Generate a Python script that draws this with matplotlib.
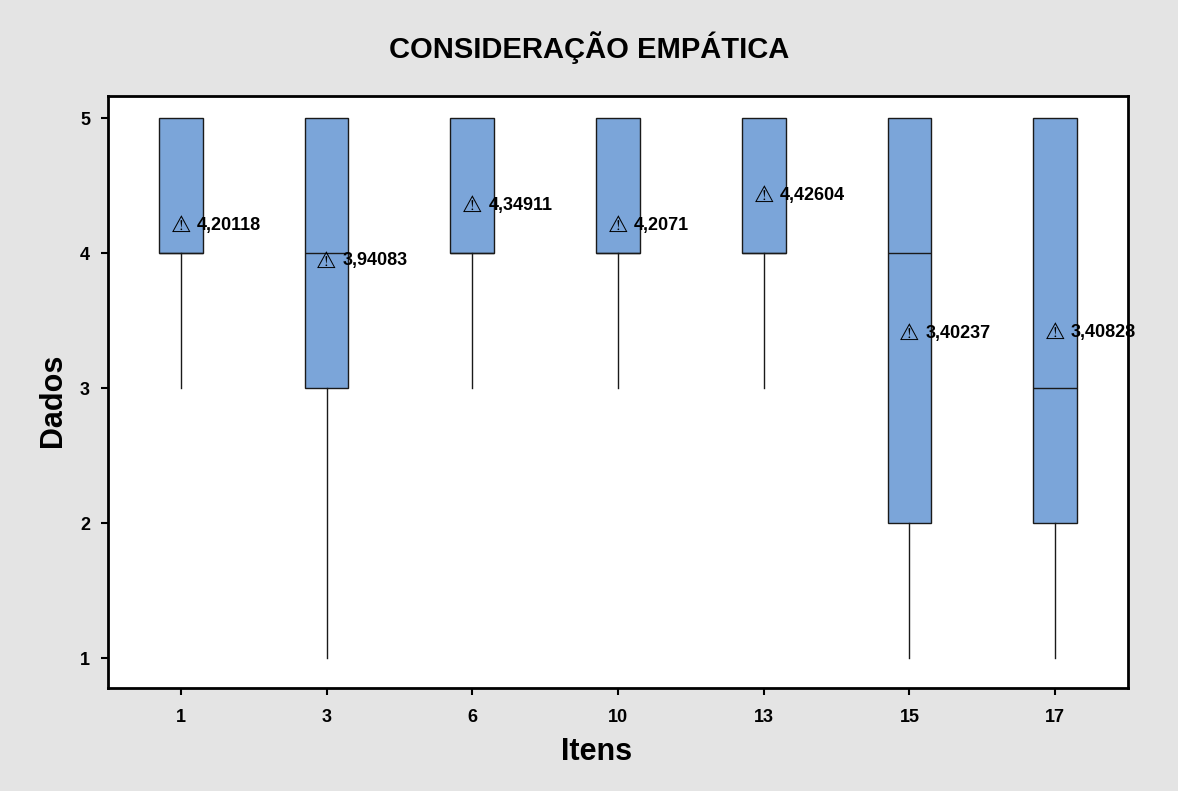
import matplotlib.pyplot as plt

# box plot summary per item
itens = ['1', '3', '6', '10', '13', '15', '17']
minimo = [3, 1, 3, 3, 3, 1, 1]
q1 = [4, 3, 4, 4, 4, 2, 2]
mediana = [4, 4, 4, 4, 4, 4, 3]
q3 = [5, 5, 5, 5, 5, 5, 5]
maximo = [5, 5, 5, 5, 5, 5, 5]
medias = [4.20118, 3.94083, 4.34911, 4.2071, 4.42604, 3.40237, 3.40828]

stats = []
for i in range(len(itens)):
    stats.append({'label': itens[i], 'whislo': minimo[i], 'q1': q1[i],
                  'med': mediana[i], 'q3': q3[i], 'whishi': maximo[i],
                  'fliers': []})

fig = plt.figure(figsize=(11.78, 7.91), dpi=100)
fig.patch.set_facecolor('#e4e4e4')
ax = fig.add_axes([108 / 1178, 1 - 688 / 791, 1020 / 1178, 592 / 791])
ax.set_facecolor('white')

pos = list(range(len(itens)))
ax.bxp(stats, positions=pos, widths=0.3, patch_artist=True, showcaps=False,
       boxprops=dict(facecolor='#7ba5d9', edgecolor='#1a1a1a', linewidth=1),
       medianprops=dict(color='#1a1a1a', linewidth=1),
       whiskerprops=dict(color='#1a1a1a', linewidth=1))

# mean symbol and value
for x, m in zip(pos, medias):
    ax.text(x, m, '\u26a0', ha='center', va='center', fontsize=16.5,
            family='DejaVu Sans', color='black')
    ax.annotate(str(m).replace('.', ','), (x, m), xytext=(11.5, 0),
                textcoords='offset points', ha='left', va='center',
                fontsize=13, fontweight='bold', family='Liberation Sans')

ax.set_xlim(-0.5, 6.5)
ax.set_ylim(0.778, 5.163)
ax.set_xticks(pos)
ax.set_xticklabels(itens)
ax.set_yticks([1, 2, 3, 4, 5])
for lab in ax.get_xticklabels() + ax.get_yticklabels():
    lab.set_fontweight('bold')
    lab.set_family('Liberation Sans')
    lab.set_fontsize(13)
ax.tick_params(axis='x', direction='out', length=5, width=1.5, pad=10)
ax.tick_params(axis='y', direction='out', length=5, width=1.5, pad=8)
for s in ax.spines.values():
    s.set_linewidth(2)

ax.set_xlabel('Itens', fontsize=22, fontweight='bold', family='Liberation Sans')
ax.xaxis.set_label_coords(0.479, -0.083)
ax.set_ylabel('Dados', fontsize=22, fontweight='bold', family='Liberation Sans')
ax.yaxis.set_label_coords(-0.039, 0.486)
fig.suptitle('CONSIDERAÇÃO EMPÁTICA', y=1 - 48 / 791, va='center', fontsize=21,
             fontweight='bold', family='Liberation Sans')

fig.savefig('out.png', dpi=100, facecolor=fig.get_facecolor())
